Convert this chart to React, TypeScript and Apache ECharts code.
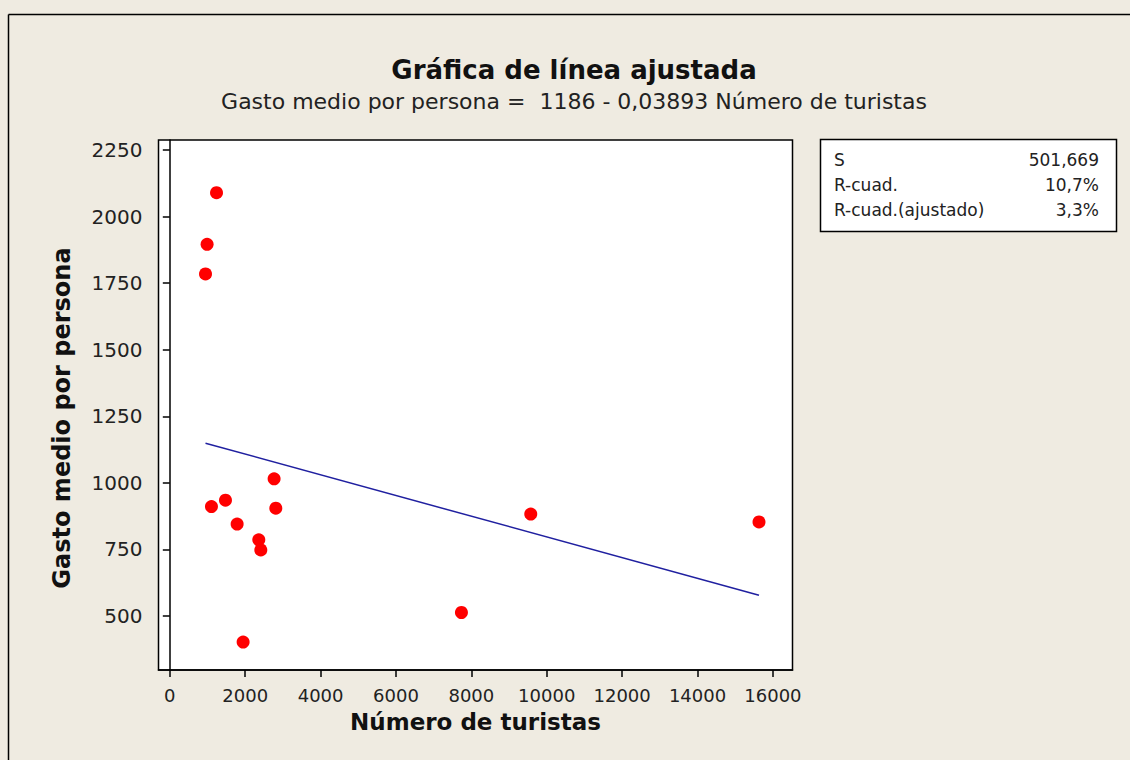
import React, { useEffect, useRef } from "react";
import * as echarts from "echarts";

const touristsX = [1239, 989, 947, 2767, 1105, 1477, 2812, 1786, 2361, 2414, 1945, 7737, 9576, 15631];
const spendingY = [2090, 1896, 1785, 1015, 911, 935, 905, 845, 786, 748, 402, 513, 883, 853];
const fitLineX = [947, 15631];
const fitLineY = [1149, 578];
const xTicks = [0, 2000, 4000, 6000, 8000, 10000, 12000, 14000, 16000];
const yTicks = [500, 750, 1000, 1250, 1500, 1750, 2000, 2250];
const statLabels = ["S", "R-cuad.", "R-cuad.(ajustado)"];
const statValues = ["501,669", "10,7%", "3,3%"];

const FONT = "DejaVu Sans";

export default function App() {
  const ref = useRef<HTMLDivElement>(null);
  useEffect(() => {
    if (!ref.current) return;
    const chart = echarts.init(ref.current, undefined, { renderer: "svg" });
    const points = touristsX.map((x, i) => [x, spendingY[i]]);
    const line = fitLineX.map((x, i) => [x, fitLineY[i]]);
    const rowY = [160, 185, 210];
    const graphics: any[] = [
      { type: "line", shape: { x1: 8.5, y1: 14.5, x2: 1130, y2: 14.5 }, style: { stroke: "#000", lineWidth: 1.5 }, z: 10 },
      { type: "line", shape: { x1: 8.5, y1: 14.5, x2: 8.5, y2: 760 }, style: { stroke: "#000", lineWidth: 1.5 }, z: 10 },
      { type: "text", x: 574, y: 70, style: { text: "Gráfica de línea ajustada", font: `bold 26px "${FONT}"`, fill: "#111", textAlign: "center", textVerticalAlign: "middle" } },
      { type: "text", x: 574, y: 101, style: { text: "Gasto medio por persona =  1186 - 0,03893 Número de turistas", font: `22px "${FONT}"`, fill: "#222", textAlign: "center", textVerticalAlign: "middle" } },
      { type: "text", x: 62, y: 418, rotation: Math.PI / 2, style: { text: "Gasto medio por persona", font: `bold 24px "${FONT}"`, fill: "#111", textAlign: "center", textVerticalAlign: "middle" } },
      { type: "rect", shape: { x: 820.5, y: 139.5, width: 296, height: 92 }, style: { fill: "#fff", stroke: "#000", lineWidth: 1.5 } },
    ];
    statLabels.forEach((t, i) => {
      graphics.push({ type: "text", x: 834, y: rowY[i], style: { text: t, font: `17px "${FONT}"`, fill: "#222", textAlign: "left", textVerticalAlign: "middle" } });
      graphics.push({ type: "text", x: 1099, y: rowY[i], style: { text: statValues[i], font: `17px "${FONT}"`, fill: "#222", textAlign: "right", textVerticalAlign: "middle" } });
    });
    chart.setOption({
      animation: false,
      backgroundColor: "#EFEBE1",
      grid: {
        left: 158.5, top: 140, width: 634, height: 530,
        show: true, backgroundColor: "#fff", borderColor: "#000", borderWidth: 1.5,
        containLabel: false,
      },
      xAxis: {
        type: "value", min: -300, max: 16520,
        name: "Número de turistas", nameLocation: "middle", nameGap: 40,
        nameTextStyle: { fontFamily: FONT, fontWeight: "bold", fontSize: 23, color: "#111" },
        axisLine: { show: true, lineStyle: { color: "#000", width: 1.5 } },
        axisTick: { show: true, length: 7, lineStyle: { color: "#000", width: 1.5 }, customValues: xTicks },
        axisLabel: { fontFamily: FONT, fontSize: 18, color: "#222", margin: 16, customValues: xTicks, formatter: (v: number) => String(v) },
        splitLine: { show: false },
      },
      yAxis: {
        type: "value", min: 297, max: 2288,
        axisLine: { show: true, lineStyle: { color: "#000", width: 1.5 } },
        axisTick: { show: true, length: 7, lineStyle: { color: "#000", width: 1.5 }, customValues: yTicks },
        axisLabel: { fontFamily: FONT, fontSize: 20, color: "#222", margin: 16, customValues: yTicks, formatter: (v: number) => String(v) },
        splitLine: { show: false },
      },
      graphic: graphics,
      series: [
        {
          type: "line", data: line, symbol: "none",
          lineStyle: { color: "#2020a0", width: 1.5 }, z: 2,
        },
        {
          type: "scatter", data: points, symbol: "circle", symbolSize: 13,
          itemStyle: { color: "#f00", opacity: 1 }, z: 3,
        },
      ],
    });
    return () => chart.dispose();
  }, []);
  return <div ref={ref} style={{ position: "fixed", left: 0, top: 0, width: 1130, height: 760 }} />;
}
